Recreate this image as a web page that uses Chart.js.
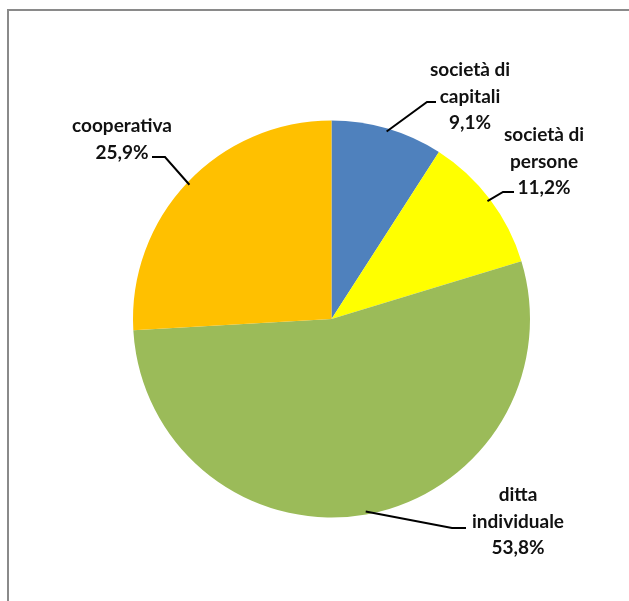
<!DOCTYPE html>
<html lang="it">
<head>
    <meta charset="UTF-8">
    <title>Forma giuridica</title>
    <script src="https://cdn.jsdelivr.net/npm/chart.js"></script>
    <style>
        body { margin: 0; background: #fff; }
        .cornice {
            position: absolute;
            left: 7px;
            top: 9px;
            width: 700px;
            height: 700px;
            border-left: 2px solid #8a8a8a;
            border-top: 2px solid #8a8a8a;
        }
        #torta { position: absolute; left: 0; top: 0; }
    </style>
</head>
<body>
    <div class="cornice"></div>
    <canvas id="torta" width="629" height="601"></canvas>

<script>
    // dati
    var categorie = [['società di', 'capitali'], ['società di', 'persone'], ['ditta', 'individuale'], ['cooperativa']];
    var percentuali = [9.1, 11.2, 53.8, 25.9];
    var colori = ['#4F81BD', '#FFFF00', '#9BBB59', '#FFC000'];

    // posizione delle etichette (centro x, y della prima riga) e gomito della linea guida
    var posEtichette = [
        { x: 470, y: 70, gomito: [427, 102], fine: [436, 102] },
        { x: 544, y: 135, gomito: [503, 192], fine: [514, 192] },
        { x: 518, y: 495, gomito: [452, 528], fine: [466, 528] },
        { x: 122, y: 126, gomito: [165, 157], fine: [152, 157] }
    ];

    function formatta(v) {
        return v.toFixed(1).replace('.', ',') + '%';
    }

    const etichette = {
        id: 'etichette',
        afterDatasetsDraw(chart) {
            const ctx = chart.ctx;
            const archi = chart.getDatasetMeta(0).data;
            ctx.save();
            archi.forEach((arco, i) => {
                const p = arco.getProps(['x', 'y', 'startAngle', 'endAngle', 'outerRadius'], true);
                const meta = (p.startAngle + p.endAngle) / 2;
                const sx = p.x + Math.cos(meta) * (p.outerRadius - 3);
                const sy = p.y + Math.sin(meta) * (p.outerRadius - 3);
                const pos = posEtichette[i];

                ctx.strokeStyle = '#000';
                ctx.lineWidth = 2;
                ctx.beginPath();
                ctx.moveTo(sx, sy);
                ctx.lineTo(pos.gomito[0], pos.gomito[1]);
                ctx.lineTo(pos.fine[0], pos.fine[1]);
                ctx.stroke();

                const righe = categorie[i].concat([formatta(percentuali[i])]);
                ctx.fillStyle = '#111';
                ctx.font = 'bold 19px Lato';
                ctx.textAlign = 'center';
                ctx.textBaseline = 'middle';
                righe.forEach((t, k) => {
                    ctx.fillText(t, pos.x, pos.y + k * 26.5);
                });
            });
            ctx.restore();
        }
    };

    new Chart(document.getElementById('torta'), {
        type: 'pie',
        data: {
            labels: categorie.map(c => c.join(' ')),
            datasets: [{
                data: percentuali,
                backgroundColor: colori,
                borderWidth: 0
            }]
        },
        options: {
            responsive: false,
            animation: false,
            layout: { padding: { left: 133, right: 99, top: 120, bottom: 83 } },
            plugins: {
                legend: { display: false },
                tooltip: { enabled: false }
            }
        },
        plugins: [etichette]
    });
</script>
</body>
</html>
